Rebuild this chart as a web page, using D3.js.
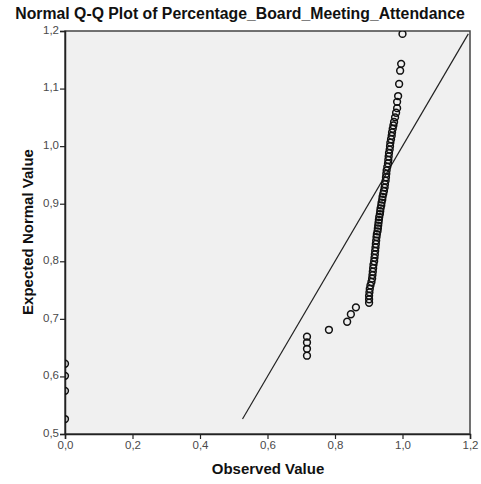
<!DOCTYPE html>
<html><head><meta charset="utf-8">
<script src="https://cdn.jsdelivr.net/npm/d3@7"></script>
<style>
body{margin:0;background:#fff;}
text{font-family:"Liberation Sans",Arial,sans-serif;}
</style></head>
<body><svg id="c" width="481" height="484"></svg>
<script>
const title = "Normal Q-Q Plot of Percentage_Board_Meeting_Attendance";
const xLabel = "Observed Value";
const yLabel = "Expected Normal Value";
const xTicks = [0, 0.2, 0.4, 0.6, 0.8, 1.0, 1.2];
const yTicks = [0.5, 0.6, 0.7, 0.8, 0.9, 1.0, 1.1, 1.2];
const observed = [
  0, 0, 0, 0,
  0.717, 0.717, 0.717, 0.717,
  0.782, 0.836, 0.847, 0.862,
  0.901, 0.901, 0.901, 0.902, 0.903, 0.905, 0.908, 0.910, 0.911, 0.912,
  0.913, 0.914, 0.916, 0.917, 0.918, 0.919, 0.920, 0.921, 0.922, 0.923,
  0.924, 0.926, 0.927, 0.928, 0.929, 0.930, 0.931, 0.933, 0.934, 0.935,
  0.937, 0.938, 0.940, 0.941, 0.943, 0.945, 0.947, 0.948, 0.950, 0.951,
  0.952, 0.953, 0.955, 0.957, 0.958, 0.959, 0.960, 0.962, 0.963, 0.964,
  0.966, 0.968, 0.969, 0.971, 0.973, 0.975, 0.978, 0.981, 0.984, 0.984,
  0.987, 0.990, 0.993, 0.996, 1.000
];
const expected = [
  0.526, 0.575, 0.601, 0.622,
  0.636, 0.648, 0.659, 0.669,
  0.681, 0.695, 0.708, 0.720,
  0.728, 0.734, 0.740, 0.746, 0.752, 0.758, 0.764, 0.770, 0.776, 0.782,
  0.788, 0.794, 0.800, 0.806, 0.812, 0.818, 0.824, 0.830, 0.836, 0.842,
  0.847, 0.852, 0.857, 0.862, 0.867, 0.872, 0.877, 0.882, 0.887, 0.892,
  0.897, 0.902, 0.907, 0.912, 0.917, 0.922, 0.928, 0.934, 0.940, 0.946,
  0.952, 0.958, 0.964, 0.970, 0.976, 0.982, 0.988, 0.994, 1.000, 1.006,
  1.012, 1.018, 1.024, 1.030, 1.036, 1.042, 1.050, 1.058, 1.066, 1.077,
  1.087, 1.108, 1.131, 1.143, 1.195
];
const refLine = [0.526, 1.195];

const svg = d3.select("#c");
const m = {l:65, r:470, t:31, b:434};
const x = d3.scaleLinear().domain([0,1.2]).range([m.l, m.r]);
const y = d3.scaleLinear().domain([0.5,1.2]).range([m.b, m.t]);
const fmt = d => d3.format(".1f")(d).replace(".", ",");

svg.append("rect").attr("x", m.l).attr("y", m.t).attr("width", m.r-m.l).attr("height", m.b-m.t)
  .attr("fill", "#f0f0f0").attr("stroke", "#444").attr("stroke-width", 1.5);

svg.append("defs").append("clipPath").attr("id","clip").append("rect")
  .attr("x", m.l).attr("y", m.t).attr("width", m.r-m.l).attr("height", m.b-m.t);

const gx = svg.append("g").attr("transform", `translate(0,${m.b})`)
  .call(d3.axisBottom(x).tickValues(xTicks).tickFormat(fmt).tickSize(5).tickPadding(2));
const gy = svg.append("g").attr("transform", `translate(${m.l},0)`)
  .call(d3.axisLeft(y).tickValues(yTicks).tickFormat(fmt).tickSize(5).tickPadding(1));
[gx, gy].forEach(g => {
  g.select(".domain").attr("stroke", "#222").attr("stroke-width", 1.5);
  g.selectAll(".tick line").attr("stroke", "#222").attr("stroke-width", 1.2);
  g.selectAll(".tick text").attr("fill", "#4a4a4a").attr("font-size", 11.5)
    .attr("font-family", "'Liberation Sans', Arial, sans-serif");
});
gy.selectAll(".tick text").attr("dy", "0.2em");

const plot = svg.append("g").attr("clip-path", "url(#clip)");
plot.append("line")
  .attr("x1", x(refLine[0])).attr("y1", y(refLine[0]))
  .attr("x2", x(refLine[1])).attr("y2", y(refLine[1]))
  .attr("stroke", "#222").attr("stroke-width", 1.2);

plot.selectAll("circle").data(observed.map((o,i)=>[o, expected[i]])).join("circle")
  .attr("cx", d => x(d[0])).attr("cy", d => y(d[1])).attr("r", 3.4)
  .attr("fill", "none").attr("stroke", "#111").attr("stroke-width", 1.5);

svg.append("text").attr("x", 240).attr("y", 19).attr("text-anchor", "middle")
  .attr("font-size", 15.8).attr("font-weight", "bold").attr("fill", "#111").text(title);
svg.append("text").attr("x", 268).attr("y", 474).attr("text-anchor", "middle")
  .attr("font-size", 15).attr("font-weight", "bold").attr("fill", "#111").text(xLabel);
svg.append("text").attr("transform", "translate(33,232) rotate(-90)").attr("text-anchor", "middle")
  .attr("font-size", 15).attr("font-weight", "bold").attr("fill", "#111").text(yLabel);
</script></body></html>
